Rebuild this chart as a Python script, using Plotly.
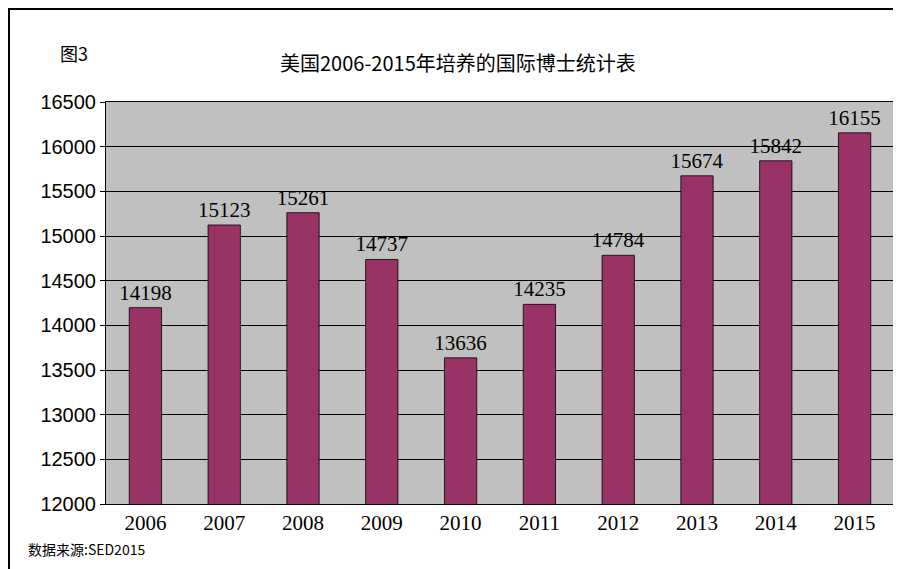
import plotly.graph_objects as go

years = ["2006","2007","2008","2009","2010","2011","2012","2013","2014","2015"]
values = [14198,15123,15261,14737,13636,14235,14784,15674,15842,16155]
yticks = [12000,12500,13000,13500,14000,14500,15000,15500,16000,16500]

W, H, l, r, t, b = 901, 569, 98, 15, 94, 73
pw, ph = W - l - r, H - t - b
px = lambda x: (x - l) / pw
py = lambda y: (H - b - y) / ph

fig = go.Figure(go.Bar(
    x=years, y=values, marker=dict(color="#993366", line=dict(color="#000000", width=0.8)),
    text=[str(v) for v in values], textposition="outside", constraintext="none",
    textfont=dict(family="Liberation Serif", size=21, color="#000"), cliponaxis=False,
))
fig.update_layout(
    width=W, height=H, paper_bgcolor="white", plot_bgcolor="#C0C0C0",
    margin=dict(l=l, r=r, t=t, b=b, autoexpand=False), bargap=0.59, showlegend=False,
    xaxis=dict(type="category", automargin=False, tickfont=dict(family="Liberation Serif", size=21, color="#000"),
               showline=True, linecolor="#000", linewidth=1, ticks="", mirror=True),
    yaxis=dict(range=[12000,16500], tickvals=yticks, ticktext=[str(v) for v in yticks], automargin=False,
               showgrid=True, gridcolor="#000", gridwidth=1,
               tickfont=dict(family="Liberation Sans", size=20, color="#000"),
               showline=True, linecolor="#000", linewidth=1, ticks="outside", ticklen=5, tickcolor="#000", mirror=True),
    annotations=[
        dict(text="美国2006-2015年培养的国际博士统计表", x=px(450), y=py(38), xref="paper", yref="paper", showarrow=False,
             font=dict(family="Noto Sans CJK SC", size=20, color="#000")),
        dict(text="图3", x=px(50), y=py(30), xref="paper", yref="paper", showarrow=False,
             font=dict(family="Noto Sans CJK SC", size=18, color="#000")),
        dict(text="数据来源:SED2015", x=px(18), y=py(553), xref="paper", yref="paper", xanchor="left", showarrow=False,
             font=dict(family="Noto Sans CJK SC", size=14, color="#000")),
    ],
    shapes=[dict(type="rect", xref="paper", yref="paper", x0=px(1), x1=px(W-1), y0=py(H-1), y1=py(1),
                 line=dict(color="#000", width=2))],
)
fig.write_html("out.html")
